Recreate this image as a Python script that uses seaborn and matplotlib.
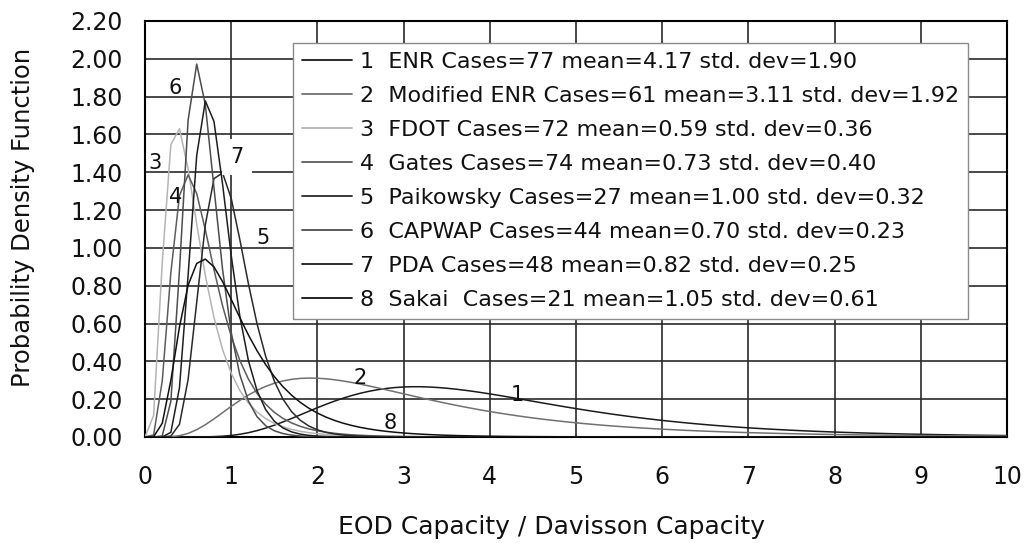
import numpy as np
import pandas as pd
import matplotlib
matplotlib.use("Agg")
import matplotlib.pyplot as plt
from matplotlib.lines import Line2D
import seaborn as sns

# Summary statistics of each capacity-prediction method
methods = ["ENR", "Modified ENR", "FDOT", "Gates", "Paikowsky", "CAPWAP", "PDA", "Sakai"]
cases = [77, 61, 72, 74, 27, 44, 48, 21]
means = [4.17, 3.11, 0.59, 0.73, 1.00, 0.70, 0.82, 1.05]
std_devs = [1.90, 1.92, 0.36, 0.40, 0.32, 0.23, 0.25, 0.61]

# Curve number tags placed beside the curves (data units)
tag_x = [4.32, 2.49, 0.12, 0.35, 1.37, 0.35, 1.07, 2.84]
tag_y = [0.22, 0.31, 1.45, 1.27, 1.05, 1.845, 1.48, 0.074]

x_ticks = list(range(0, 11))
y_ticks = [0.0, 0.2, 0.4, 0.6, 0.8, 1.0, 1.2, 1.4, 1.6, 1.8, 2.0, 2.2]

line_colors = ["#1a1a1a", "#707070", "#b4b4b4", "#5c5c5c",
               "#2a2a2a", "#4c4c4c", "#1e1e1e", "#111111"]


def lognormal_pdf(x, mean, sd):
    """Lognormal density with the given arithmetic mean and standard deviation."""
    s2 = np.log(1.0 + (sd / mean) ** 2)
    mu = np.log(mean) - s2 / 2.0
    out = np.zeros_like(x, dtype=float)
    pos = x > 0
    out[pos] = np.exp(-(np.log(x[pos]) - mu) ** 2 / (2 * s2)) / (x[pos] * np.sqrt(2 * np.pi * s2))
    return out


xs = np.round(np.arange(0.0, 10.0001, 0.1), 2)
labels = []
frames = []
for i, (name, n, m, s) in enumerate(zip(methods, cases, means, std_devs)):
    sep = "  " if name == "Sakai" else " "
    lab = f"{i + 1}  {name}{sep}Cases={n} mean={m:.2f} std. dev={s:.2f}"
    labels.append(lab)
    frames.append(pd.DataFrame({"x": xs, "pdf": lognormal_pdf(xs, m, s), "method": lab}))
df = pd.concat(frames, ignore_index=True)

sns.set_theme(style="white")
plt.rcParams["font.family"] = ["DejaVu Sans"]

fig = plt.figure(figsize=(10.29, 5.43), dpi=100)
ax = fig.add_axes([145 / 1029, 1 - 437 / 543, 862 / 1029, 416 / 543])

palette = dict(zip(labels, line_colors))
sns.lineplot(data=df, x="x", y="pdf", hue="method", palette=palette,
             estimator=None, sort=False, linewidth=1.1, legend=False, ax=ax, zorder=3)

ax.set_xlim(0, 10)
ax.set_ylim(0, 2.2)
ax.set_xticks(x_ticks)
ax.set_xticklabels([str(v) for v in x_ticks])
ax.set_yticks(y_ticks)
ax.set_yticklabels([f"{v:.2f}" for v in y_ticks])
ax.grid(True, color="#2a2a2a", linewidth=1.2)
ax.set_axisbelow(True)
for sp in ax.spines.values():
    sp.set_visible(True)
    sp.set_color("black")
    sp.set_linewidth(1.5)
ax.tick_params(axis="both", direction="out", length=6, width=1.2, color="black",
               labelsize=17, labelcolor="#111111")
ax.tick_params(axis="x", pad=14)
ax.tick_params(axis="y", pad=10)

ax.set_xlabel("EOD Capacity / Davisson Capacity", fontsize=18, color="#111111")
ax.xaxis.set_label_coords((551 - 145) / 862, (437 - 527) / 416)
ax.xaxis.label.set_va("center")
ax.set_ylabel("Probability Density Function", fontsize=17.5, color="#111111")
ax.yaxis.set_label_coords((23 - 145) / 862, (437 - 217) / 416)
ax.yaxis.label.set_va("center")

for i, (tx, ty) in enumerate(zip(tag_x, tag_y)):
    kw = {}
    if i == 6:
        kw["bbox"] = dict(boxstyle="square,pad=0.4", fc="white", ec="none")
    ax.text(tx, ty, str(i + 1), fontsize=15, ha="center", va="center",
            color="#111111", zorder=4, **kw)

handles = [Line2D([0], [0], color=c, lw=1.3) for c in line_colors]
leg = ax.legend(handles, labels, loc="upper left",
                bbox_to_anchor=((293 - 145) / 862, (437 - 43) / 416),
                borderaxespad=0, fontsize=16, handlelength=2.25, handletextpad=0.36,
                labelspacing=0.63, borderpad=0.4, frameon=True, fancybox=False,
                framealpha=1, edgecolor="#8a8a8a", facecolor="white")
leg.get_frame().set_linewidth(1.0)
leg.set_zorder(5)
for t in leg.get_texts():
    t.set_color("#111111")

fig.savefig("out.png", dpi=100, facecolor="white")
